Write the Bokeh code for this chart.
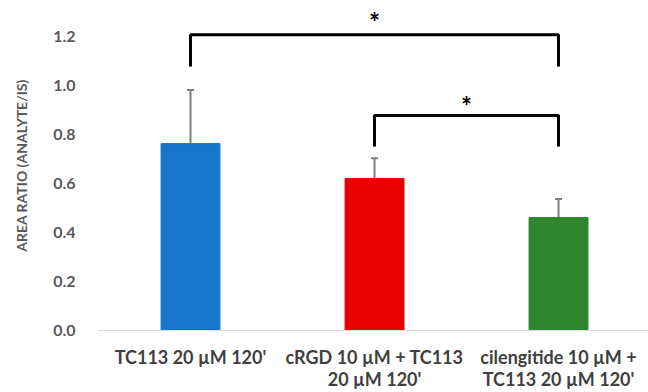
from bokeh.plotting import figure
from bokeh.models import ColumnDataSource, FixedTicker, Whisker, TeeHead, Range1d
from bokeh.core.properties import value
from bokeh.embed import file_html
from bokeh.resources import INLINE

categories = ["TC113 20 µM 120'", "cRGD 10 µM + TC113\n20 µM 120'", "cilengitide 10 µM +\nTC113 20 µM 120'"]
means = [0.763, 0.620, 0.461]
errors = [0.219, 0.083, 0.076]
colors = ["#1874cd", "#e60000", "#2e862e"]
y_ticks = [0.0, 0.2, 0.4, 0.6, 0.8, 1.0, 1.2]

bracket_left = [0, 1]
bracket_right = [2, 2]
bracket_top = [1.207, 0.878]
bracket_leg = [1.078, 0.751]
bracket_star_y = [1.258, 0.918]
bracket_labels = ["*", "*"]

FONT = "Lato"

xs = list(range(len(categories)))
src = ColumnDataSource(dict(x=xs, top=means, color=colors,
                            upper=[m + e for m, e in zip(means, errors)]))

p = figure(width=648, height=392, output_backend="svg", toolbar_location=None,
           x_range=Range1d(-0.5, 2.489), y_range=Range1d(0, 1.347),
           min_border_left=98, min_border_right=0, min_border_top=0, min_border_bottom=62)
p.outline_line_color = None
p.xgrid.visible = False
p.ygrid.visible = False

p.vbar(x="x", top="top", width=0.32, color="color", source=src)

w = Whisker(base="x", lower="top", upper="upper", source=src,
            line_color="#7f7f7f", line_width=2,
            upper_head=TeeHead(size=7, line_color="#7f7f7f", line_width=2),
            lower_head=None)
p.add_layout(w)

bxs, bys = [], []
for l, r, t, g in zip(bracket_left, bracket_right, bracket_top, bracket_leg):
    bxs.append([l, l, r, r])
    bys.append([g, t, t, g])
p.multi_line(xs=bxs, ys=bys, line_color="black", line_width=3)

star_x = [(l + r) / 2 for l, r in zip(bracket_left, bracket_right)]
p.text(x=star_x, y=bracket_star_y, text=bracket_labels, text_align="center",
       text_baseline="middle", text_font=value(FONT), text_font_style="bold",
       text_font_size="26px", text_color="black")

# y axis
p.yaxis.ticker = FixedTicker(ticks=y_ticks)
p.yaxis.major_label_overrides = {t: f"{t:.1f}" for t in y_ticks}
p.yaxis.axis_line_color = None
p.yaxis.major_tick_line_color = None
p.yaxis.minor_tick_line_color = None
p.yaxis.major_label_standoff = 17
p.yaxis.major_label_text_font = FONT
p.yaxis.major_label_text_font_style = "bold"
p.yaxis.major_label_text_font_size = "16px"
p.yaxis.major_label_text_color = "#595959"
p.yaxis.axis_label = "AREA RATIO (ANALYTE/IS)"
p.yaxis.axis_label_text_font = FONT
p.yaxis.axis_label_text_font_style = "bold"
p.yaxis.axis_label_text_font_size = "14px"
p.yaxis.axis_label_text_color = "#595959"
p.yaxis.axis_label_standoff = 20

# x axis
p.xaxis.ticker = FixedTicker(ticks=xs)
p.xaxis.major_label_overrides = {i: c for i, c in zip(xs, categories)}
p.xaxis.axis_line_color = "#d9d9d9"
p.xaxis.axis_line_width = 1
p.xaxis.major_tick_line_color = None
p.xaxis.minor_tick_line_color = None
p.xaxis.major_label_standoff = 9
p.xaxis.major_label_text_font = FONT
p.xaxis.major_label_text_font_style = "bold"
p.xaxis.major_label_text_font_size = "18px"
p.xaxis.major_label_text_line_height = 1.0
p.xaxis.major_label_text_color = "#404040"

open("out.html", "w").write(file_html(p, INLINE))
